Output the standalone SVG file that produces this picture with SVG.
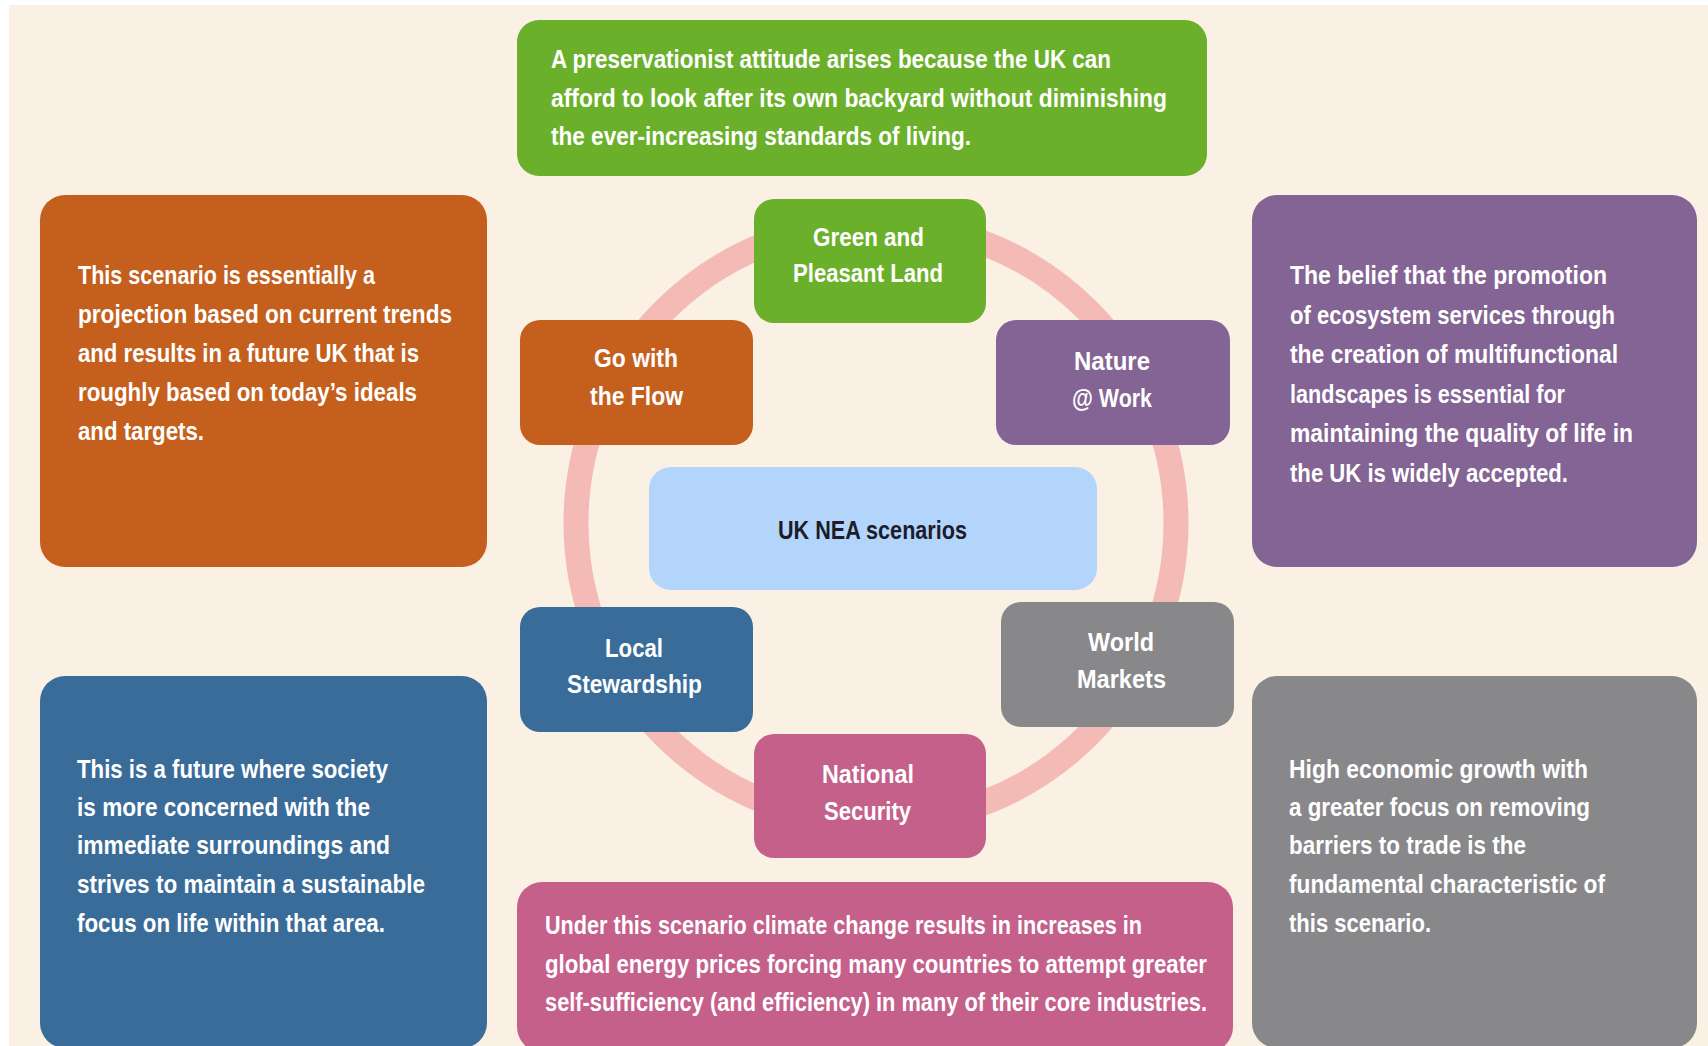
<svg xmlns="http://www.w3.org/2000/svg" width="1708" height="1046" viewBox="0 0 1708 1046">
<style>
  text { font-family: "Liberation Sans", Arial, sans-serif; font-weight: bold; font-size: 25px; fill: #ffffff; }
  .dark { fill: #1c1c2a; }
  .green { fill: #6BB02B; }
  .orange { fill: #C45F1E; }
  .purple { fill: #836494; }
  .blue { fill: #3A6C9A; }
  .grey { fill: #88888B; }
  .pink { fill: #C4608A; }
  .light { fill: #B4D5FB; }
</style>
<rect x="0" y="0" width="1708" height="1046" fill="#ffffff"/>
<rect x="9" y="5" width="1699" height="1041" fill="#FAF1E4"/>

<g id="connectors">
  <circle cx="876" cy="523" r="300" fill="none" stroke="#F4BAB6" stroke-width="25"/>
</g>

<g id="desc-green">
  <rect class="green" x="517" y="20" width="690" height="156" rx="22"/>
  <text x="551" y="68" textLength="560" lengthAdjust="spacingAndGlyphs">A preservationist attitude arises because the UK can</text>
  <text x="551" y="107" textLength="616" lengthAdjust="spacingAndGlyphs">afford to look after its own backyard without diminishing</text>
  <text x="551" y="145" textLength="420" lengthAdjust="spacingAndGlyphs">the ever-increasing standards of living.</text>
</g>

<g id="desc-orange">
  <rect class="orange" x="40" y="195" width="447" height="372" rx="25"/>
  <text x="78" y="284" textLength="297" lengthAdjust="spacingAndGlyphs">This scenario is essentially a</text>
  <text x="78" y="323" textLength="374" lengthAdjust="spacingAndGlyphs">projection based on current trends</text>
  <text x="78" y="362" textLength="341" lengthAdjust="spacingAndGlyphs">and results in a future UK that is</text>
  <text x="78" y="401" textLength="339" lengthAdjust="spacingAndGlyphs">roughly based on today’s ideals</text>
  <text x="78" y="440" textLength="126" lengthAdjust="spacingAndGlyphs">and targets.</text>
</g>

<g id="desc-purple">
  <rect class="purple" x="1252" y="195" width="445" height="372" rx="25"/>
  <text x="1290" y="284" textLength="317" lengthAdjust="spacingAndGlyphs">The belief that the promotion</text>
  <text x="1290" y="323.5" textLength="325" lengthAdjust="spacingAndGlyphs">of ecosystem services through</text>
  <text x="1290" y="363" textLength="328" lengthAdjust="spacingAndGlyphs">the creation of multifunctional</text>
  <text x="1290" y="402.5" textLength="275" lengthAdjust="spacingAndGlyphs">landscapes is essential for</text>
  <text x="1290" y="442" textLength="343" lengthAdjust="spacingAndGlyphs">maintaining the quality of life in</text>
  <text x="1290" y="481.5" textLength="278" lengthAdjust="spacingAndGlyphs">the UK is widely accepted.</text>
</g>

<g id="desc-blue">
  <rect class="blue" x="40" y="676" width="447" height="372" rx="25"/>
  <text x="77" y="778" textLength="311" lengthAdjust="spacingAndGlyphs">This is a future where society</text>
  <text x="77" y="816" textLength="293" lengthAdjust="spacingAndGlyphs">is more concerned with the</text>
  <text x="77" y="854" textLength="313" lengthAdjust="spacingAndGlyphs">immediate surroundings and</text>
  <text x="77" y="893" textLength="348" lengthAdjust="spacingAndGlyphs">strives to maintain a sustainable</text>
  <text x="77" y="932" textLength="308" lengthAdjust="spacingAndGlyphs">focus on life within that area.</text>
</g>

<g id="desc-grey">
  <rect class="grey" x="1252" y="676" width="445" height="372" rx="25"/>
  <text x="1289" y="778" textLength="299" lengthAdjust="spacingAndGlyphs">High economic growth with</text>
  <text x="1289" y="816" textLength="301" lengthAdjust="spacingAndGlyphs">a greater focus on removing</text>
  <text x="1289" y="854" textLength="237" lengthAdjust="spacingAndGlyphs">barriers to trade is the</text>
  <text x="1289" y="893" textLength="316" lengthAdjust="spacingAndGlyphs">fundamental characteristic of</text>
  <text x="1289" y="932" textLength="142" lengthAdjust="spacingAndGlyphs">this scenario.</text>
</g>

<g id="desc-pink">
  <rect class="pink" x="517" y="882" width="716" height="170" rx="25"/>
  <text x="545" y="934" textLength="597" lengthAdjust="spacingAndGlyphs">Under this scenario climate change results in increases in</text>
  <text x="545" y="973" textLength="662" lengthAdjust="spacingAndGlyphs">global energy prices forcing many countries to attempt greater</text>
  <text x="545" y="1011" textLength="662" lengthAdjust="spacingAndGlyphs">self-sufficiency (and efficiency) in many of their core industries.</text>
</g>

<g id="node-green-pleasant-land">
  <rect class="green" x="754" y="199" width="232" height="124" rx="20"/>
  <text x="813" y="246" textLength="111" lengthAdjust="spacingAndGlyphs">Green and</text>
  <text x="793" y="282" textLength="150" lengthAdjust="spacingAndGlyphs">Pleasant Land</text>
</g>

<g id="node-go-with-the-flow">
  <rect class="orange" x="520" y="320" width="233" height="125" rx="20"/>
  <text x="594" y="367" textLength="84" lengthAdjust="spacingAndGlyphs">Go with</text>
  <text x="590" y="405" textLength="93" lengthAdjust="spacingAndGlyphs">the Flow</text>
</g>

<g id="node-nature-at-work">
  <rect class="purple" x="996" y="320" width="234" height="125" rx="20"/>
  <text x="1074" y="370" textLength="76" lengthAdjust="spacingAndGlyphs">Nature</text>
  <text x="1072" y="407" textLength="80" lengthAdjust="spacingAndGlyphs">@ Work</text>
</g>

<g id="node-uk-nea">
  <rect class="light" x="649" y="467" width="448" height="123" rx="22"/>
  <text class="dark" x="778" y="539" textLength="189" lengthAdjust="spacingAndGlyphs">UK NEA scenarios</text>
</g>

<g id="node-local-stewardship">
  <rect class="blue" x="520" y="607" width="233" height="125" rx="20"/>
  <text x="605" y="657" textLength="58" lengthAdjust="spacingAndGlyphs">Local</text>
  <text x="567" y="693" textLength="135" lengthAdjust="spacingAndGlyphs">Stewardship</text>
</g>

<g id="node-world-markets">
  <rect class="grey" x="1001" y="602" width="233" height="125" rx="20"/>
  <text x="1088" y="651" textLength="66" lengthAdjust="spacingAndGlyphs">World</text>
  <text x="1077" y="688" textLength="89" lengthAdjust="spacingAndGlyphs">Markets</text>
</g>

<g id="node-national-security">
  <rect class="pink" x="754" y="734" width="232" height="124" rx="20"/>
  <text x="822" y="783" textLength="92" lengthAdjust="spacingAndGlyphs">National</text>
  <text x="824" y="820" textLength="87" lengthAdjust="spacingAndGlyphs">Security</text>
</g>
</svg>
